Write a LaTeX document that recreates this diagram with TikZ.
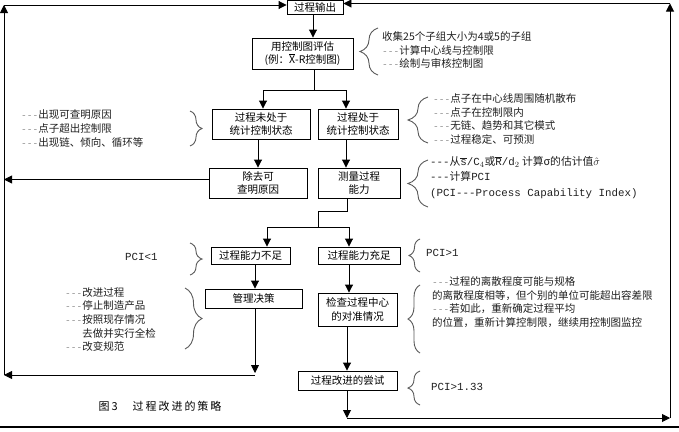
\documentclass[tikz,border=0pt]{standalone}
\usepackage{fontspec}
\setmainfont{Noto Sans CJK SC}
\setmonofont{Liberation Mono}
\usepackage{xcolor}
\usepackage{tikz}
\usetikzlibrary{arrows.meta,decorations.pathreplacing}

\definecolor{bracegray}{gray}{0.35}
\definecolor{dashgray}{gray}{0.55}
\definecolor{notegray}{gray}{0.12}

% short gray dashes in front of the notes
\newcommand{\dsh}{{\color{dashgray}\ttfamily\fontsize{9.5}{9.5}\selectfont -{}-{}-}}

\tikzset{
  procbox/.style={draw, line width=0.9pt, align=center, inner sep=0pt,
    font=\fontsize{10.5}{13.5}\selectfont},
  note/.style={anchor=west, align=left, text=notegray, inner sep=0pt,
    font=\fontsize{10.5}{13.6}\selectfont},
  pcinote/.style={anchor=west, align=left, text=notegray, inner sep=0pt,
    font=\fontsize{10.8}{15.5}\selectfont},
  arr/.style={-{Triangle[length=8pt,width=8pt]}, line width=0.9pt},
  notebrace/.style={decorate, decoration={brace, amplitude=#1}, draw=bracegray, line width=0.9pt},
}

\begin{document}
\begin{tikzpicture}[x=1pt, y=-1pt]
    \useasboundingbox (0,0) rectangle (679,431);

    % boxes
    \node[procbox, minimum width=56pt, minimum height=14pt] (out) at (315,7) {过程输出};
    \node[procbox, minimum width=101pt, minimum height=31pt] (eval) at (302.5,53.5)
      {用控制图评估\\(例：$\overline{\hbox{X}}$-R控制图)};
    \node[procbox, minimum width=98pt, minimum height=30pt] (notin) at (261,124) {过程未处于\\统计控制状态};
    \node[procbox, minimum width=80pt, minimum height=30pt] (incontrol) at (358,124) {过程处于\\统计控制状态};
    \node[procbox, minimum width=98pt, minimum height=30pt] (remove) at (258,183) {除去可\\查明原因};
    \node[procbox, minimum width=82pt, minimum height=30pt] (measure) at (359,183) {测量过程\\能力};
    \node[procbox, minimum width=79pt, minimum height=17pt] (short) at (250.5,255.5) {过程能力不足};
    \node[procbox, minimum width=82pt, minimum height=17pt] (enough) at (359,255.5) {过程能力充足};
    \node[procbox, minimum width=97pt, minimum height=19pt] (decide) at (253.5,298.5) {管理决策};
    \node[procbox, minimum width=79pt, minimum height=33pt] (check) at (357.5,309.5) {检查过程中心\\的对准情况};
    \node[procbox, minimum width=99pt, minimum height=19pt] (try) at (347.5,380.5) {过程改进的尝试};

    % junction points
    \coordinate (tl) at (4,5);
    \coordinate (bl) at (4,375);
    \coordinate (tr) at (670,3.5);
    \coordinate (br) at (670,418);
    \coordinate (j1) at (314,90);
    \coordinate (j1l) at (263,90);
    \coordinate (j1r) at (346,90);
    \coordinate (j2a) at (347,211);
    \coordinate (j2b) at (318,211);
    \coordinate (j2) at (318,227);
    \coordinate (j2l) at (267,227);
    \coordinate (j2r) at (349,227);
    \coordinate (j3) at (255,375);
    \coordinate (j4) at (347,418);

    % main flow
    \draw[arr] (out.south -| 313,0) -- (eval.north -| 313,0);
    \draw[line width=0.9pt] (eval.south -| j1) -- (j1);
    \draw[line width=0.9pt] (j1l) -- (j1r);
    \draw[arr] (j1l) -- (j1l |- notin.north);
    \draw[arr] (j1r) -- (j1r |- incontrol.north);
    \draw[arr] (notin.south -| remove.north) -- (remove.north);
    \draw[arr] (incontrol.south -| j1r) -- (measure.north -| j1r);
    \draw[line width=0.9pt] (measure.south -| j2a) -- (j2a) -- (j2b) -- (j2);
    \draw[line width=0.9pt] (j2l) -- (j2r);
    \draw[arr] (j2l) -- (j2l |- short.north);
    \draw[arr] (j2r) -- (j2r |- enough.north);
    \draw[arr] (short.south -| j3) -- (decide.north -| j3);
    \draw[arr] (enough.south -| j2r) -- (check.north -| j2r);
    \draw[arr] (check.south -| j4) -- (try.north -| j4);

    % feedback loops
    \draw[arr] ([yshift=3.5pt]remove.west) -- ([yshift=3.5pt]remove.west -| tl);
    \draw[arr] (decide.south -| j3) -- ([yshift=2pt]j3);
    \draw[arr] (j3) -- (bl);
    \draw[arr] (bl) -- (tl);
    \draw[arr] (tl) -- (tl -| out.west);
    \draw[arr] (try.south -| j4) -- (j4);
    \draw[arr] (j4) -- (br);
    \draw[arr] (br) -- (tr);
    \draw[arr] (tr) -- (tr -| out.east);

    % braces
    \draw[notebrace=18] (378,75) -- (378,28);
    \draw[notebrace=12] (190,111) -- (190,146);
    \draw[notebrace=20] (428,143) -- (428,97);
    \draw[notebrace=20] (428,207) -- (428,160);
    \draw[notebrace=12] (190,243) -- (190,275);
    \draw[notebrace=11] (420,272) -- (420,239);
    \draw[notebrace=17] (185,288) -- (185,349);
    \draw[notebrace=12] (420,353) -- (420,285);
    \draw[notebrace=12] (420,405) -- (420,371);

    % notes
    \node[note] (n1) at (382,50) {收集25个子组大小为4或5的子组\\\dsh 计算中心线与控制限\\\dsh 绘制与审核控制图};
    \node[note] (n2) at (21,128.5) {\dsh 出现可查明原因\\\dsh 点子超出控制限\\\dsh 出现链、倾向、循环等};
    \node[note] (n3) at (433,119) {\dsh 点子在中心线周围随机散布\\\dsh 点子在控制限内\\\dsh 无链、趋势和其它模式\\\dsh 过程稳定、可预测};
    \node[pcinote] (n4) at (430,177.5)
      {{\ttfamily -{}-{}-}从$\overline{\hbox{\ttfamily s}}$\texttt{/C}$_4$或$\overline{\hbox{\ttfamily R}}$\texttt{/d}$_2$\ 计算σ的估计值$\hat{\sigma}$\\
       {\ttfamily -{}-{}-}计算\texttt{PCI}\\
       \texttt{(PCI-{}-{}-Process Capability Index)}};
    \node[pcinote] (n5) at (125,257) {\texttt{PCI<1}};
    \node[pcinote] (n6) at (426,253) {\texttt{PCI>1}};
    \node[note] (n7) at (65,319.5) {\dsh 改进过程\\\dsh 停止制造产品\\\dsh 按照现存情况\\\hphantom{\dsh}去做并实行全检\\\dsh 改变规范};
    \node[note] (n8) at (432,302) {\dsh 过程的离散程度可能与规格\\的离散程度相等，但个别的单位可能超出容差限\\\dsh 若如此，重新确定过程平均\\的位置，重新计算控制限，继续用控制图监控};
    \node[pcinote] (n9) at (431,387) {\texttt{PCI>1.33}};

    % caption and bottom rule
    \node[inner sep=0pt, font=\fontsize{11}{13}\selectfont\addfontfeatures{LetterSpace=18}] (cap) at (160,406) {图3　过程改进的策略};
    \draw[line width=1.2pt] (0,427) -- (679,427);
\end{tikzpicture}
\end{document}
